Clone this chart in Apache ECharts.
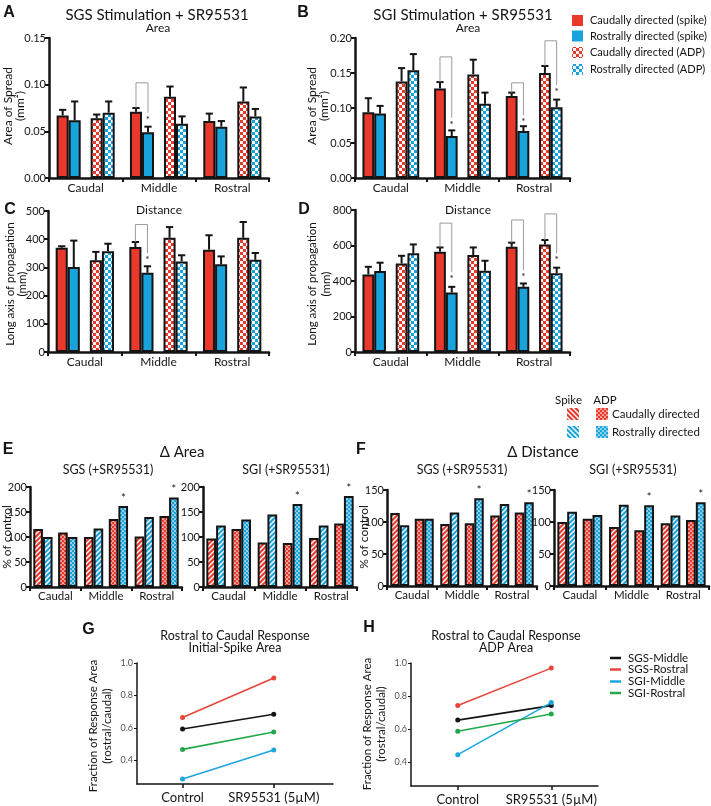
<!DOCTYPE html>
<html><head><meta charset="utf-8">
<script src="https://cdn.jsdelivr.net/npm/echarts@6/dist/echarts.min.js"></script>
<style>html,body{margin:0;padding:0;background:#fff}#c{width:711px;height:806px}</style>
</head><body><div id="c"></div><script>
// ---------------- DATA ----------------
const groups = ['Caudal', 'Middle', 'Rostral'];
// Panel A: SGS stimulation + SR95531, area of spread (mm²), mean / SEM
const A_caudSpike = [0.067, 0.071, 0.061];
const A_rostSpike = [0.062, 0.049, 0.055];
const A_caudADP   = [0.064, 0.087, 0.082];
const A_rostADP   = [0.070, 0.058, 0.066];
const A_caudSpikeSem = [0.006, 0.004, 0.008];
const A_rostSpikeSem = [0.020, 0.006, 0.006];
const A_caudADPSem   = [0.004, 0.011, 0.015];
const A_rostADPSem   = [0.012, 0.008, 0.008];
// significance brackets: [group, pair (0 spike,1 ADP), top, left end, right end]
const A_sig = [[1, 0, 0.102, 0.075, 0.070]];
const A_ticks = [0, 0.15, 0.05];

// Panel B: SGI stimulation + SR95531, area of spread (mm²)
const B_caudSpike = [0.094, 0.128, 0.117];
const B_rostSpike = [0.092, 0.060, 0.067];
const B_caudADP   = [0.138, 0.148, 0.150];
const B_rostADP   = [0.154, 0.106, 0.101];
const B_caudSpikeSem = [0.020, 0.009, 0.005];
const B_rostSpikeSem = [0.011, 0.008, 0.007];
const B_caudADPSem   = [0.019, 0.021, 0.010];
const B_rostADPSem   = [0.023, 0.016, 0.011];
const B_sig = [[1, 0, 0.173, 0.137, 0.086], [2, 0, 0.136, 0.122, 0.090], [2, 1, 0.196, 0.160, 0.133]];
const B_ticks = [0, 0.20, 0.05];

// Panel C: SGS, long axis of propagation
const C_caudSpike = [370, 372, 363];
const C_rostSpike = [301, 281, 311];
const C_caudADP   = [325, 405, 405];
const C_rostADP   = [357, 321, 327];
const C_caudSpikeSem = [5, 18, 51];
const C_rostSpikeSem = [94, 23, 28];
const C_caudADPSem   = [30, 38, 56];
const C_rostADPSem   = [27, 22, 24];
const C_sig = [[1, 0, 452, 390, 351]];
const C_ticks = [0, 500, 100];

// Panel D: SGI, long axis of propagation
const D_caudSpike = [437, 565, 593];
const D_rostSpike = [456, 335, 367];
const D_caudADP   = [499, 546, 606];
const D_rostADP   = [556, 458, 443];
const D_caudSpikeSem = [43, 24, 23];
const D_rostSpikeSem = [47, 32, 19];
const D_caudADPSem   = [43, 43, 25];
const D_rostADPSem   = [50, 56, 32];
const D_sig = [[1, 0, 726, 589, 450], [2, 0, 744, 616, 461], [2, 1, 778, 631, 557]];
const D_ticks = [0, 800, 200];

// Panel E: Δ Area, % of control
const E_sgs_caudSpike = [116, 100, 101];
const E_sgs_rostSpike = [100, 117, 140];
const E_sgs_caudADP   = [109, 136, 142];
const E_sgs_rostADP   = [100, 162, 179];
const E_sgi_caudSpike = [97, 89, 98];
const E_sgi_rostSpike = [123, 145, 123];
const E_sgi_caudADP   = [116, 88, 127];
const E_sgi_rostADP   = [135, 166, 182];
// Panel F: Δ Distance, % of control
const F_sgs_caudSpike = [114, 97, 110];
const F_sgs_rostSpike = [95, 115, 128];
const F_sgs_caudADP   = [105, 98, 115];
const F_sgs_rostADP   = [105, 137, 131];
const F_sgi_caudSpike = [100, 92, 98];
const F_sgi_rostSpike = [116, 127, 110];
const F_sgi_caudADP   = [105, 87, 103];
const F_sgi_rostADP   = [111, 126, 131];
// stars: [group, series (0 caudSpike,1 rostSpike,2 caudADP,3 rostADP)]
const EF_stars = [[1, 3], [2, 3]];
const E_ticks = [0, 200, 50];
const F_ticks = [0, 150, 50];

// Panels G / H: rostral to caudal response fraction
const conditions = ['Control', 'SR95531 (5µM)'];
const lineNames = ['SGS-Middle', 'SGS-Rostral', 'SGI-Middle', 'SGI-Rostral'];
const G_sgsMiddle  = [0.594, 0.684];
const G_sgsRostral = [0.665, 0.908];
const G_sgiMiddle  = [0.286, 0.465];
const G_sgiRostral = [0.468, 0.575];
const H_sgsMiddle  = [0.654, 0.742];
const H_sgsRostral = [0.742, 0.969];
const H_sgiMiddle  = [0.445, 0.760];
const H_sgiRostral = [0.587, 0.691];
const GH_ticks = [0.4, 0.6, 0.8, 1.0];

// ---------------- STYLE ----------------
const FONT = 'Lato, "Open Sans", sans-serif';
const INK = '#141414';
const RED = '#E8392C', BLUE = '#18A3DC';
const LRED = '#E8463A', LBLUE = '#1BA6DE', LGREEN = '#22A84B';

function mkCanvas(s){const c=document.createElement('canvas');c.width=c.height=s;return c;}
function checkPat(color){const c=mkCanvas(6),x=c.getContext('2d');x.fillStyle='#fff';x.fillRect(0,0,6,6);x.fillStyle=color;x.fillRect(0,0,3,3);x.fillRect(3,3,3,3);return {image:c,repeat:'repeat'};}
function stripePat(color, flip){const s=5,c=mkCanvas(s),x=c.getContext('2d');x.fillStyle=color;x.fillRect(0,0,s,s);x.strokeStyle='#fff';x.lineWidth=1.4;x.beginPath();
  if(!flip){x.moveTo(-1,s+1);x.lineTo(s+1,-1);x.moveTo(-1,1);x.lineTo(1,-1);x.moveTo(s-1,s+1);x.lineTo(s+1,s-1);}
  else {x.moveTo(-1,-1);x.lineTo(s+1,s+1);x.moveTo(s-1,-1);x.lineTo(s+1,1);x.moveTo(-1,s-1);x.lineTo(1,s+1);}
  x.stroke();return {image:c,repeat:'repeat'};}
function dotPat(color){const s=4,c=mkCanvas(s),x=c.getContext('2d');x.fillStyle=color;x.fillRect(0,0,s,s);x.fillStyle='#fff';
  [[1,1],[3,3]].forEach(([a,b])=>{x.beginPath();x.arc(a,b,0.85,0,7);x.fill();});return {image:c,repeat:'repeat'};}

const fillsAD = [RED, BLUE, checkPat(RED), checkPat(BLUE)];
const fillsEF = [stripePat(RED,false), stripePat(BLUE,false), dotPat(RED), dotPat(BLUE)];

const FR_AD = [0.164, 0.164, 0.136, 0.164, 0.164];
const FR_EF = [0.19, 0.19, 0.11, 0.19, 0.19];
const SLOTS = [0, 1, 3, 4];
function slotOffset(band, fr, slot){const T=fr.reduce((a,b)=>a+b,0)*band;let x=-T/2;for(let i=0;i<slot;i++)x+=fr[i]*band;return x+fr[slot]*band/2;}

const grids = [
  {left:49, top:38, width:220, height:140},   // 0 A
  {left:355, top:38, width:215, height:140},  // 1 B
  {left:48, top:211, width:221, height:141},  // 2 C
  {left:355, top:210, width:215, height:142}, // 3 D
  {left:30, top:487, width:152, height:100},  // 4 E sgs
  {left:203, top:487, width:154, height:100}, // 5 E sgi
  {left:387, top:490, width:150, height:96},  // 6 F sgs
  {left:554, top:490, width:155, height:96},  // 7 F sgi
  {left:137, top:663, width:196, height:121}, // 8 G
  {left:411, top:663, width:187, height:123}  // 9 H
].map(g=>Object.assign({containLabel:false, outerBoundsMode:'none'}, g));

const xAxes = [], yAxes = [], series = [];

function catX(gi, fs, margin){
  xAxes.push({type:'category', gridIndex:gi, data:groups,
    axisLine:{show:true, lineStyle:{color:INK, width:2.5}},
    axisTick:{show:true, interval:0, length:4, alignWithLabel:false, lineStyle:{color:INK, width:2}},
    axisLabel:{interval:0, fontSize:fs, color:INK, fontFamily:FONT, margin}, splitLine:{show:false}});
}
function valY(gi, ticks, fmt, fs){
  yAxes.push({type:'value', gridIndex:gi, min:ticks[0], max:ticks[1], interval:ticks[2],
    axisLine:{show:true, lineStyle:{color:INK, width:2.5}},
    axisTick:{show:true, length:4, lineStyle:{color:INK, width:2}},
    axisLabel:{fontSize:fs, color:INK, fontFamily:FONT, margin:3, formatter:fmt}, splitLine:{show:false}});
}
function bars(gi, sets, fills, fr){
  const order = [0, 1, 'sp', 2, 3];
  order.forEach((k, pos)=>{
    if (k === 'sp') { series.push({type:'bar', xAxisIndex:gi, yAxisIndex:gi, data:groups.map(()=>'-'), barWidth:(fr[pos]*100)+'%', barGap:'0%', silent:true}); return; }
    series.push({type:'bar', xAxisIndex:gi, yAxisIndex:gi, data:sets[k], barWidth:(fr[pos]*100)+'%', barGap:'0%',
      itemStyle:{color:fills[k], borderColor:INK, borderWidth:2}, silent:true, z:2});
  });
}
function errors(gi, sets, sems, fr){
  const data = [];
  sets.forEach((vals,k)=>vals.forEach((v,g)=>data.push([g, v, v + sems[k][g], SLOTS[k]])));
  series.push({type:'custom', xAxisIndex:gi, yAxisIndex:gi, data, encode:{x:0, y:1}, z:3, silent:true,
    renderItem:(p, api)=>{
      const g=api.value(0), slot=api.value(3);
      const band=api.size([1,0])[0];
      const p0=api.coord([g, api.value(1)]), p1=api.coord([g, api.value(2)]);
      const x=p0[0]+slotOffset(band, fr, slot);
      const cap=band*fr[slot]*0.6;
      return {type:'group', children:[
        {type:'line', shape:{x1:x, y1:p0[1], x2:x, y2:p1[1]}, style:{stroke:INK, lineWidth:2}},
        {type:'line', shape:{x1:x-cap/2, y1:p1[1], x2:x+cap/2, y2:p1[1]}, style:{stroke:INK, lineWidth:2}}
      ]};
    }});
}
function brackets(gi, sig, fr){
  series.push({type:'custom', xAxisIndex:gi, yAxisIndex:gi, data:sig, encode:{x:0, y:2}, z:4, silent:true,
    renderItem:(p, api)=>{
      const g=api.value(0), pair=api.value(1);
      const band=api.size([1,0])[0];
      const cx=api.coord([g, 0])[0];
      const xl=cx+slotOffset(band, fr, pair?3:0), xr=cx+slotOffset(band, fr, pair?4:1);
      const yt=api.coord([g, api.value(2)])[1], yl=api.coord([g, api.value(3)])[1], yr=api.coord([g, api.value(4)])[1];
      return {type:'group', children:[
        {type:'polyline', shape:{points:[[xl,yl],[xl,yt],[xr,yt],[xr,yr]]}, style:{stroke:'#9b9b9b', lineWidth:1, fill:'none'}},
        {type:'text', x:xr, y:yr+7, style:{text:'*', fontSize:10, fontFamily:FONT, fill:INK, align:'center', verticalAlign:'middle'}}
      ]};
    }});
}
function stars(gi, sets, fr){
  const data = EF_stars.map(([g,k])=>[g, sets[k][g], SLOTS[k]]);
  series.push({type:'custom', xAxisIndex:gi, yAxisIndex:gi, data, encode:{x:0, y:1}, z:4, silent:true,
    renderItem:(p, api)=>{
      const g=api.value(0);
      const band=api.size([1,0])[0];
      const pt=api.coord([g, api.value(1)]);
      const x=pt[0]+slotOffset(band, fr, api.value(2));
      return {type:'text', x, y:pt[1]-8, style:{text:'*', fontSize:11, fontFamily:FONT, fill:INK, align:'center', verticalAlign:'middle'}};
    }});
}

// A-D
const panelsAD = [
  [0, [A_caudSpike, A_rostSpike, A_caudADP, A_rostADP], [A_caudSpikeSem, A_rostSpikeSem, A_caudADPSem, A_rostADPSem], A_sig, A_ticks, v=>v.toFixed(2)],
  [1, [B_caudSpike, B_rostSpike, B_caudADP, B_rostADP], [B_caudSpikeSem, B_rostSpikeSem, B_caudADPSem, B_rostADPSem], B_sig, B_ticks, v=>v.toFixed(2)],
  [2, [C_caudSpike, C_rostSpike, C_caudADP, C_rostADP], [C_caudSpikeSem, C_rostSpikeSem, C_caudADPSem, C_rostADPSem], C_sig, C_ticks, v=>String(v)],
  [3, [D_caudSpike, D_rostSpike, D_caudADP, D_rostADP], [D_caudSpikeSem, D_rostSpikeSem, D_caudADPSem, D_rostADPSem], D_sig, D_ticks, v=>String(v)]
];
panelsAD.forEach(([gi, sets, sems, sig, ticks, fmt])=>{
  catX(gi, 12, 4); valY(gi, ticks, fmt, 11);
  bars(gi, sets, fillsAD, FR_AD); errors(gi, sets, sems, FR_AD); brackets(gi, sig, FR_AD);
});
// E-F
const panelsEF = [
  [4, [E_sgs_caudSpike, E_sgs_rostSpike, E_sgs_caudADP, E_sgs_rostADP], E_ticks],
  [5, [E_sgi_caudSpike, E_sgi_rostSpike, E_sgi_caudADP, E_sgi_rostADP], E_ticks],
  [6, [F_sgs_caudSpike, F_sgs_rostSpike, F_sgs_caudADP, F_sgs_rostADP], F_ticks],
  [7, [F_sgi_caudSpike, F_sgi_rostSpike, F_sgi_caudADP, F_sgi_rostADP], F_ticks]
];
panelsEF.forEach(([gi, sets, ticks])=>{
  catX(gi, 11.5, 3); valY(gi, ticks, v=>String(v), 11);
  bars(gi, sets, fillsEF, FR_EF); stars(gi, sets, FR_EF);
});
// G-H
const lineColors = [INK, LRED, LBLUE, LGREEN];
[[8, [G_sgsMiddle, G_sgsRostral, G_sgiMiddle, G_sgiRostral], 1.65],
 [9, [H_sgsMiddle, H_sgsRostral, H_sgiMiddle, H_sgiRostral], 1.5]].forEach(([gi, sets, xmax])=>{
  xAxes.push({type:'value', gridIndex:gi, min:-0.5, max:xmax,
    axisLine:{show:true, onZero:false, lineStyle:{color:INK, width:1.5}}, splitLine:{show:false},
    axisTick:{show:true, customValues:[0,1], length:4, lineStyle:{color:INK, width:1.5}},
    axisLabel:{customValues:[0,1], formatter:v=>conditions[Math.round(v)], fontSize:13, color:INK, fontFamily:FONT, margin:7}});
  yAxes.push({type:'value', gridIndex:gi, min:0.255, max:1.0,
    axisLine:{show:true, onZero:false, lineStyle:{color:INK, width:1.5}}, splitLine:{show:false},
    axisTick:{show:true, customValues:GH_ticks, length:3, lineStyle:{color:INK, width:1}},
    axisLabel:{customValues:GH_ticks, formatter:v=>v.toFixed(1), fontSize:9, color:'#555', fontFamily:FONT, margin:4}});
  sets.forEach((arr, i)=>series.push({type:'line', name:lineNames[i], xAxisIndex:gi, yAxisIndex:gi,
    data:conditions.map((c, j)=>[j, arr[j]]), symbol:'circle', symbolSize:5, showSymbol:true,
    lineStyle:{color:lineColors[i], width:1.6}, itemStyle:{color:lineColors[i]}, silent:true, z:3}));
});

// ---------------- TEXT / LEGENDS ----------------
const G = [];
function T(x, y, text, size, o){ o=o||{}; G.push({type:'text', x, y, rotation:o.rot||0, z:10,
  style:{text, fontSize:size, fontFamily:o.ff||FONT, fontWeight:o.fw||'normal', fill:o.fill||INK,
    textAlign:o.align||'center', textVerticalAlign:'middle'}}); }
const LET = {ff:'"Liberation Sans", Arial, sans-serif', fw:'bold'};
T(9, 12.5, 'A', 16, LET); T(303, 12.5, 'B', 16, LET); T(10, 210, 'C', 16, LET); T(304, 210, 'D', 16, LET);
T(8, 450, 'E', 16, LET); T(361, 450, 'F', 16, LET); T(88.5, 630, 'G', 16, LET); T(369, 628, 'H', 16, LET);
T(157, 15, 'SGS Stimulation + SR95531', 15); T(158, 28, 'Area', 12);
T(463, 15, 'SGI Stimulation + SR95531', 15); T(468, 28, 'Area', 12);
T(159, 210, 'Distance', 12); T(468, 210, 'Distance', 12);
const R = Math.PI/2;
T(8.5, 106, 'Area of Spread', 12, {rot:R}); T(20.5, 106, '(mm²)', 12, {rot:R});
T(312, 106, 'Area of Spread', 12, {rot:R}); T(324, 106, '(mm²)', 12, {rot:R});
T(10, 284, 'Long axis of propagation', 11.5, {rot:R}); T(22, 284, '(mm)', 11.5, {rot:R});
T(312, 284, 'Long axis of propagation', 11.5, {rot:R}); T(326, 284, '(mm)', 11.5, {rot:R});
T(182, 452, 'Δ Area', 15); T(108, 470, 'SGS (+SR95531)', 12.5); T(286, 470, 'SGI (+SR95531)', 12.5);
T(543, 452, 'Δ Distance', 15); T(462, 470, 'SGS (+SR95531)', 12.5); T(633, 470, 'SGI (+SR95531)', 12.5);
T(7, 537, '% of control', 12, {rot:R}); T(364, 537, '% of control', 12, {rot:R});
T(235, 636, 'Rostral to Caudal Response', 12.5); T(235, 648, 'Initial-Spike Area', 12.5);
T(506, 636, 'Rostral to Caudal Response', 12.5); T(506, 648, 'ADP Area', 12.5);
T(93.5, 726, 'Fraction of Response Area', 11.5, {rot:R}); T(107.5, 726, '(rostral/caudal)', 11.5, {rot:R});
T(367.5, 724, 'Fraction of Response Area', 11.5, {rot:R}); T(381.5, 724, '(rostral/caudal)', 11.5, {rot:R});

// Legend B
const legB = ['Caudally directed (spike)', 'Rostrally directed (spike)', 'Caudally directed (ADP)', 'Rostrally directed (ADP)'];
const legBY = [20.5, 36, 52.5, 69.5];
legB.forEach((s, i)=>{
  G.push({type:'rect', shape:{x:572, y:legBY[i]-5.5, width:11, height:11}, style:{fill:fillsAD[i]}, z:10});
  T(590, legBY[i], s, 11, {align:'left'});
});
// Legend E/F
T(568.5, 400, 'Spike', 11.5); T(605, 400, 'ADP', 11.5);
const efIcons = [stripePat(RED,true), stripePat(BLUE,true), fillsEF[2], fillsEF[3]];
[[567,408],[567,426],[596,408],[596,426]].forEach(([x,y], i)=>
  G.push({type:'rect', shape:{x, y, width:12, height:12}, style:{fill:efIcons[i]}, z:10}));
T(612, 414, 'Caudally directed', 11.5, {align:'left'}); T(612, 432, 'Rostrally directed', 11.5, {align:'left'});
// Legend H
const legHY = [658, 669.5, 681.5, 693];
lineNames.forEach((n, i)=>{
  G.push({type:'line', shape:{x1:610, y1:legHY[i], x2:621, y2:legHY[i]}, style:{stroke:lineColors[i], lineWidth:2.5}, z:10});
  T(628, legHY[i], n, 11.5, {align:'left'});
});

const chart = echarts.init(document.getElementById('c'), null, {renderer:'canvas'});
chart.setOption({animation:false, backgroundColor:'#fff', grid:grids, xAxis:xAxes, yAxis:yAxes, series, graphic:{elements:G}});
</script></body></html>
